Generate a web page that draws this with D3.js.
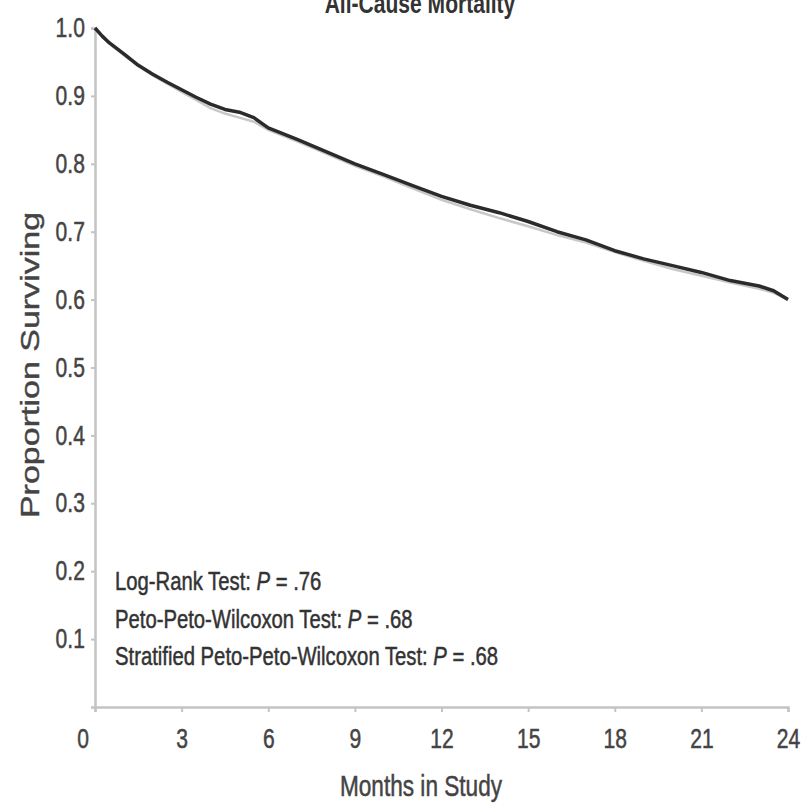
<!DOCTYPE html>
<html>
<head>
<meta charset="utf-8">
<script src="https://cdn.jsdelivr.net/npm/d3@7"></script>
<style>
  body { margin: 0; background: #fff; }
  text { font-family: "Liberation Sans", Arial, sans-serif; stroke-width: 0.5px; }
</style>
</head>
<body>
<div id="chart-area"></div>
<script>

// months in study (x)
var months = [0, 0.25, 0.5, 1, 1.5, 2, 2.5, 3, 3.5, 4, 4.5, 5, 5.5, 6, 7, 8, 9, 10, 11, 12,
              13, 14, 15, 16, 17, 18, 19, 20, 21, 22, 23, 23.5, 24];

// dark curve
var survA = [1.0, 0.988, 0.978, 0.962, 0.945, 0.932, 0.920, 0.909, 0.898, 0.888, 0.880, 0.876, 0.868, 0.853, 0.836, 0.818,
             0.800, 0.784, 0.768, 0.752, 0.739, 0.728, 0.715, 0.700, 0.688, 0.672, 0.660, 0.650, 0.640, 0.628, 0.620, 0.613, 0.600];

// light curve (mostly hidden behind the dark one)
var survB = [1.0, 0.988, 0.977, 0.960, 0.944, 0.930, 0.918, 0.906, 0.894, 0.882, 0.874, 0.868, 0.862, 0.850, 0.833, 0.815,
             0.797, 0.781, 0.764, 0.747, 0.733, 0.720, 0.708, 0.695, 0.684, 0.670, 0.657, 0.645, 0.635, 0.625, 0.616, 0.610, 0.600];

var xTicks = [0, 3, 6, 9, 12, 15, 18, 21, 24];
var yTicks = [0.1, 0.2, 0.3, 0.4, 0.5, 0.6, 0.7, 0.8, 0.9, 1.0];

var testLabels = ["Log-Rank Test: ", "Peto-Peto-Wilcoxon Test: ", "Stratified Peto-Peto-Wilcoxon Test: "];
var testP = [".76", ".68", ".68"];

var width = 804, height = 808;
var margin = {top: 28, right: 16, left: 95, bottom: 101};
var squeeze = 0.78;   // the original picture is squashed sideways, so text is too

var svg = d3.select("#chart-area").append("svg")
    .attr("width", width)
    .attr("height", height);

var x = d3.scaleLinear().domain([0, 24]).range([margin.left, width - margin.right]);
var y = d3.scaleLinear().domain([0, 1]).range([height - margin.bottom, margin.top]);

// squeezed text helper
function label(px, py, size, str) {
    return svg.append("text")
        .attr("transform", "translate(" + px + "," + py + ") scale(" + squeeze + ",1)")
        .attr("font-size", size)
        .text(str);
}

// title, cut off at the top like the original
label(420, 13, 27, "All-Cause Mortality")
    .attr("text-anchor", "middle")
    .attr("font-weight", "bold")
    .attr("fill", "#333");

// axes
var xAxis = svg.append("g")
    .attr("transform", "translate(0," + y(0) + ")")
    .call(d3.axisBottom(x).tickValues(xTicks).tickSize(5).tickPadding(17).tickFormat(d3.format("d")));

var yAxis = svg.append("g")
    .attr("transform", "translate(" + x(0) + ",0)")
    .call(d3.axisLeft(y).tickValues(yTicks).tickSize(4).tickPadding(9).tickFormat(d3.format(".1f")));

[xAxis, yAxis].forEach(function(a) {
    a.select(".domain").attr("stroke", "#c4c4c4").attr("stroke-width", 2.5);
    a.selectAll(".tick line").attr("stroke", "#c4c4c4").attr("stroke-width", 2);
    a.selectAll(".tick text")
        .attr("fill", "#444")
        .attr("stroke", "#444")
        .attr("font-size", 27)
        .attr("font-family", null)
        .attr("transform", "scale(" + squeeze + ",1)");
});

// "0" sits left of the origin
xAxis.selectAll(".tick text").attr("dx", function(d) { return d === 0 ? -16 : 0; });

// axis titles
label(421, 796, 29, "Months in Study")
    .attr("text-anchor", "middle")
    .attr("fill", "#444").attr("stroke", "#444");

svg.append("text")
    .attr("transform", "translate(39,365) scale(" + squeeze + ",1) rotate(-90)")
    .attr("text-anchor", "middle")
    .attr("font-size", 34)
    .attr("fill", "#444").attr("stroke", "#444")
    .text("Proportion Surviving");

// curves
var line = d3.line()
    .x(function(d, i) { return x(months[i]); })
    .y(function(d) { return y(d); });

svg.append("path")
    .datum(survB)
    .attr("fill", "none")
    .attr("stroke", "#c8c8c8")
    .attr("stroke-width", 2.5)
    .attr("d", line);

svg.append("path")
    .datum(survA)
    .attr("fill", "none")
    .attr("stroke", "#2b2b2b")
    .attr("stroke-width", 3.5)
    .attr("stroke-linejoin", "round")
    .attr("d", line);

// test results
testLabels.forEach(function(t, i) {
    var txt = label(115, 590 + i * 37.5, 26, null).attr("fill", "#333").attr("stroke", "#333");
    txt.append("tspan").text(t);
    txt.append("tspan").attr("font-style", "italic").text("P");
    txt.append("tspan").text(" = " + testP[i]);
});

</script>
</body>
</html>
